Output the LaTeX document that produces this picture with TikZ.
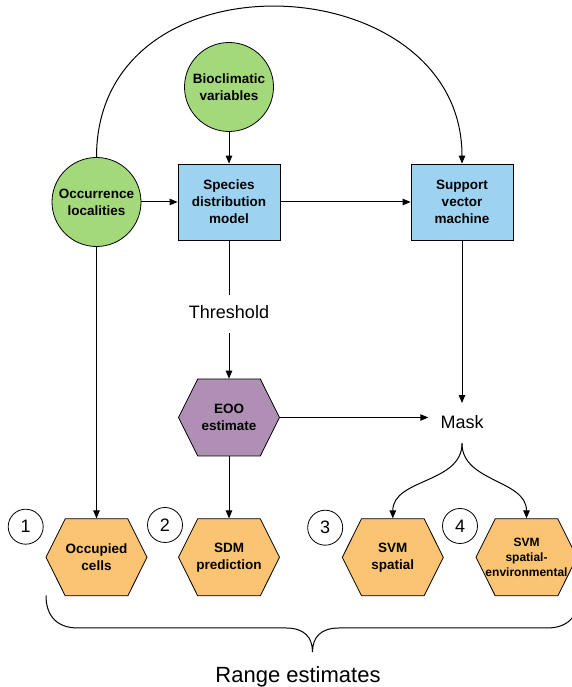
\documentclass[tikz,border=0pt]{standalone}
\usepackage{fontspec}
\setmainfont{Liberation Sans}
\usetikzlibrary{shapes.symbols, arrows.meta}
\definecolor{inpcol}{HTML}{A4D97B}
\definecolor{proccol}{HTML}{9DD3F1}
\definecolor{eoocol}{HTML}{B08FB5}
\definecolor{outcol}{HTML}{FAC473}
\tikzstyle{inpt} = [circle, minimum size=89pt, inner sep=0pt, line width=0.8pt, draw=black, fill=inpcol, font=\bfseries\fontsize{13.5}{17}\selectfont]
\tikzstyle{proc} = [rectangle, minimum width=102pt, minimum height=76pt, inner sep=0pt, line width=0.8pt, draw=black, fill=proccol, font=\bfseries\fontsize{13.5}{17}\selectfont]
\tikzstyle{hexa} = [signal, signal to=east and west, signal pointer angle=127, minimum width=101pt, minimum height=77pt, inner sep=0pt, line width=0.8pt, draw=black]
\tikzstyle{eoohex} = [hexa, fill=eoocol]
\tikzstyle{outhex} = [hexa, fill=outcol]
\tikzstyle{hextext} = [inner sep=0pt, font=\bfseries\fontsize{13.5}{17}\selectfont]
\tikzstyle{lbl} = [inner sep=10pt, text depth=5pt, font=\fontsize{18}{22}\selectfont]
\tikzstyle{numc} = [circle, minimum size=35pt, inner sep=0pt, line width=0.8pt, draw=black, font=\fontsize{18}{22}\selectfont]
\tikzstyle{arrow} = [line width=1pt, -{Triangle[length=8pt,width=6.5pt]}]
\tikzstyle{conn} = [line width=1pt]

\begin{document}
\begin{tikzpicture}[x=1pt, y=1pt, node distance=110pt, align=center]
\useasboundingbox (0,0) rectangle (571,687);

%Inputs and models
\node (occ) [inpt] at (96.5,485) {Occurrence\\localities};
\node (sdm) [proc, right of=occ, xshift=22.5pt] {Species\\distribution\\model};
\node (bio) [inpt, above of=sdm, yshift=5pt] {Bioclimatic\\variables};
\node (svm) [proc, right of=sdm, xshift=123pt] {Support\\vector\\machine};

%Threshold and mask
\node (thr) [lbl, below of=sdm, yshift=-2pt] {Threshold};
\node (eoo) [eoohex, below of=thr, yshift=6.5pt] {};
\node (eoot) [hextext] at (eoo) {EOO\\estimate};
\node (mask) [lbl, right of=eoo, xshift=123pt, yshift=-5.75pt, inner sep=12pt, text depth=3pt] {Mask};

%Range estimates
\node (cells) [outhex] at (96.5,129.7) {};
\node (cellst) [hextext] at (cells) {Occupied\\cells};
\node (pred) [outhex, right of=cells, xshift=22.5pt] {};
\node (predt) [hextext] at (pred) {SDM\\prediction};
\node (svmsp) [outhex, right of=pred, xshift=53.8pt] {};
\node (svmspt) [hextext] at (svmsp) {SVM\\spatial};
\node (svmenv) [outhex, right of=svmsp, xshift=23.7pt] {};
\node (svmenvt) [hextext, font=\bfseries\fontsize{12}{15}\selectfont] at (svmenv) {SVM\\spatial-\\environmental};

\node (n1) [numc] at (25.7,160.3) {1};
\node (n2) [numc] at (165,162) {2};
\node (n3) [numc] at (325.2,159.3) {3};
\node (n4) [numc] at (460,161) {4};

\draw [conn] (46,91.5) .. controls (46,70) and (58,59) .. (78,59) -- (286,59)
  .. controls (304,59) and (312.5,50) .. (312.5,35)
  .. controls (312.5,50) and (321,59) .. (339,59) -- (547,59)
  .. controls (567,59) and (579,70) .. (579,91.5);
\node (range) [anchor=base, font=\fontsize{22}{26}\selectfont] at (298,5) {Range estimates};

%Connectors
\draw [arrow] (occ.north) .. controls (96.5,740) and (462,722) .. (svm.north);
\draw [arrow] (bio.south) -- (sdm.north);
\draw [arrow] (occ.east) -- (sdm.west);
\draw [arrow] (sdm.east) -- (svm.west);
\draw [conn] (sdm.south) -- (thr.north);
\draw [arrow] (thr.south) -- (eoo.north);
\draw [arrow] (eoo.east) -- (eoo.east -| mask.west);
\draw [arrow] (svm.south) -- (mask.north);
\draw [arrow] (occ.south) -- (cells.north);
\draw [arrow] (eoo.south) -- (pred.north);
\draw [arrow] (mask.south) to[out=-90, in=90] (svmsp.north);
\draw [arrow] (mask.south) to[out=-90, in=90] (svmenv.north);
\end{tikzpicture}
\end{document}
